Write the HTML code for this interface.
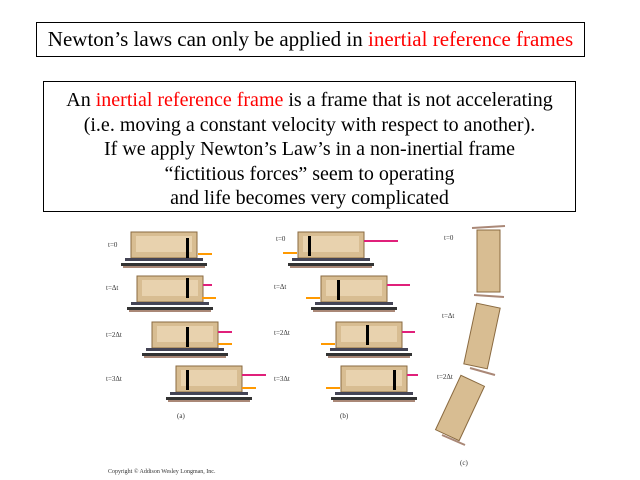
<!DOCTYPE html>
<html><head><style>
body{margin:0;width:640px;height:480px;background:#fff;position:relative;overflow:hidden;font-family:"Liberation Serif",serif;}
.b{position:absolute;border:1px solid #000;background:#fff;text-align:center;color:#000;}
.r{color:#f00;}
</style></head><body>
<div class="b" style="left:36px;top:22px;width:547px;height:33px;font-size:21px;line-height:33px;">Newton’s laws can only be applied in <span class="r">inertial reference frames</span></div>
<div class="b" style="left:43px;top:81px;width:533px;height:131px;font-size:20px;line-height:24.5px;padding-top:6px;box-sizing:border-box;">An <span class="r">inertial reference frame</span> is a frame that is not accelerating<br>(i.e. moving a constant velocity with respect to another).<br>If we apply Newton’s Law’s in a non-inertial frame<br>“fictitious forces” seem to operating<br>and life becomes very complicated</div>
<svg style="position:absolute;left:0;top:0" width="640" height="480">
<defs>
<g id="car">
<rect x="0" y="0" width="66" height="26" fill="#d8bd92" stroke="#8a6a40"/>
<rect x="5" y="4" width="56" height="16" fill="#e8d2ae"/>
<rect x="-6" y="26" width="78" height="3" fill="#445"/>
<rect x="-10" y="31" width="86" height="3" fill="#333"/>
<rect x="-8" y="34" width="82" height="2" fill="#a87" />
</g>
</defs>
<g font-size="7" font-family="Liberation Serif" fill="#333">
<use href="#car" x="131" y="232"/><use href="#car" x="137" y="276"/><use href="#car" x="152" y="322"/><use href="#car" x="176" y="366"/>
<use href="#car" x="298" y="232"/><use href="#car" x="321" y="276"/><use href="#car" x="336" y="322"/><use href="#car" x="341" y="366"/>
<g fill="#000"><rect x="186" y="238" width="3" height="20"/><rect x="186" y="278" width="3" height="20"/><rect x="186" y="327" width="3" height="20"/><rect x="186" y="370" width="3" height="20"/>
<rect x="308" y="236" width="3" height="20"/><rect x="337" y="280" width="3" height="20"/><rect x="366" y="325" width="3" height="20"/><rect x="393" y="370" width="3" height="20"/></g>
<g stroke="#f90" stroke-width="2"><line x1="198" y1="254" x2="212" y2="254"/><line x1="202" y1="298" x2="216" y2="298"/><line x1="218" y1="344" x2="232" y2="344"/><line x1="242" y1="388" x2="256" y2="388"/>
<line x1="283" y1="253" x2="297" y2="253"/><line x1="306" y1="298" x2="320" y2="298"/><line x1="321" y1="344" x2="335" y2="344"/><line x1="326" y1="388" x2="340" y2="388"/></g>
<g stroke="#e0207a" stroke-width="2"><line x1="203" y1="285" x2="212" y2="285"/><line x1="218" y1="332" x2="232" y2="332"/><line x1="242" y1="375" x2="266" y2="375"/>
<line x1="364" y1="241" x2="398" y2="241"/><line x1="387" y1="285" x2="410" y2="285"/><line x1="402" y1="332" x2="415" y2="332"/><line x1="407" y1="375" x2="418" y2="375"/></g>
<text x="108" y="247">t=0</text><text x="106" y="290">t=Δt</text><text x="106" y="337">t=2Δt</text><text x="106" y="381">t=3Δt</text>
<text x="276" y="241">t=0</text><text x="274" y="289">t=Δt</text><text x="274" y="335">t=2Δt</text><text x="274" y="381">t=3Δt</text>
<text x="177" y="418">(a)</text><text x="340" y="418">(b)</text><text x="460" y="465">(c)</text>
<text x="108" y="473" font-size="6">Copyright © Addison Wesley Longman, Inc.</text>
<g fill="#d8bd92" stroke="#8a6a40">
<rect x="477" y="230" width="23" height="62"/>
<rect x="470" y="305" width="24" height="62" transform="rotate(12 482 336)"/>
<rect x="447" y="378" width="26" height="60" transform="rotate(25 460 408)"/>
</g>
<g stroke="#a87" stroke-width="2"><line x1="472" y1="228" x2="505" y2="226"/><line x1="474" y1="295" x2="504" y2="297"/><line x1="470" y1="368" x2="495" y2="375"/><line x1="442" y1="435" x2="465" y2="445"/></g>
<text x="444" y="240">t=0</text><text x="442" y="318">t=Δt</text><text x="437" y="379">t=2Δt</text>
</g>
</svg>
</body></html>
